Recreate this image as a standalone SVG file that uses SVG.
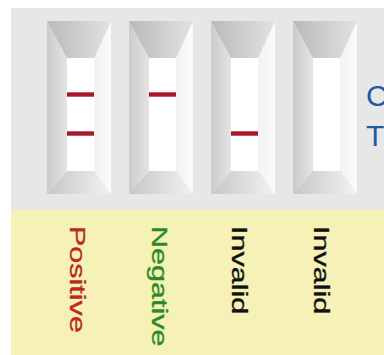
<svg xmlns="http://www.w3.org/2000/svg" width="384" height="355" viewBox="0 0 384 355">
<defs>
<linearGradient id="gTop" x1="0" y1="0" x2="1" y2="0"><stop offset="0" stop-color="#b9b9b9"/><stop offset="1" stop-color="#e2e2e2"/></linearGradient>
<linearGradient id="gLeft" x1="0" y1="0" x2="1" y2="0"><stop offset="0" stop-color="#cbcbcb"/><stop offset="1" stop-color="#e4e4e4"/></linearGradient>
<linearGradient id="gRight" x1="0" y1="0" x2="1" y2="0"><stop offset="0" stop-color="#f2f2f2"/><stop offset="1" stop-color="#fbfbfb"/></linearGradient>
<linearGradient id="gBot" x1="0" y1="0" x2="1" y2="0"><stop offset="0" stop-color="#c6c6c6"/><stop offset="1" stop-color="#f2f2f2"/></linearGradient>
<g id="strip">
<polygon points="0,0 20,37 20,150 0,173" fill="url(#gLeft)"/>
<polygon points="47,37 64,0 64,173 47,150" fill="url(#gRight)"/>
<polygon points="0,0 64,0 47,37 20,37" fill="url(#gTop)"/>
<polygon points="20,150 47,150 64,173 0,173" fill="url(#gBot)"/>
<rect x="20" y="37" width="27" height="113" fill="#ffffff"/>
</g>
</defs>
<style>
.band{fill:#a8182a}
.lbl{font-family:"Liberation Sans",Arial,sans-serif;font-size:21.5px;stroke-width:0.3px}
.ct{font-family:"Liberation Sans",Arial,sans-serif;font-size:30px;fill:#2457a5}
</style>
<rect x="0" y="0" width="384" height="355" fill="#ffffff"/>
<rect x="11" y="8" width="373" height="202" fill="#e7e7e7"/>
<rect x="11" y="210" width="373" height="145" fill="#f5f1b7"/>
<g id="strip1">
<use href="#strip" x="47" y="21"/>
<rect class="band" x="67" y="92.3" width="27" height="4.4"/>
<rect class="band" x="67" y="131.3" width="27" height="4.4"/>
</g>
<g id="strip2">
<use href="#strip" x="129" y="21"/>
<rect class="band" x="149" y="92.3" width="27" height="4.4"/>
</g>
<g id="strip3">
<use href="#strip" x="211" y="21"/>
<rect class="band" x="231" y="131.3" width="27" height="4.4"/>
</g>
<g id="strip4">
<use href="#strip" x="293" y="21"/>
</g>
<g id="ct-labels">
<text class="ct" x="366" y="106">C</text>
<text class="ct" x="366" y="146">T</text>
</g>
<g id="labels">
<text class="lbl" fill="#bb2a1e" stroke="#bb2a1e" transform="translate(70,226) rotate(90) scale(1.42,1)">Positive</text>
<text class="lbl" fill="#2b8a22" stroke="#2b8a22" transform="translate(152,226) rotate(90) scale(1.42,1)">Negative</text>
<text class="lbl" fill="#111111" stroke="#111111" transform="translate(232,226) rotate(90) scale(1.42,1)">Invalid</text>
<text class="lbl" fill="#111111" stroke="#111111" transform="translate(314,226) rotate(90) scale(1.42,1)">Invalid</text>
</g>
</svg>
